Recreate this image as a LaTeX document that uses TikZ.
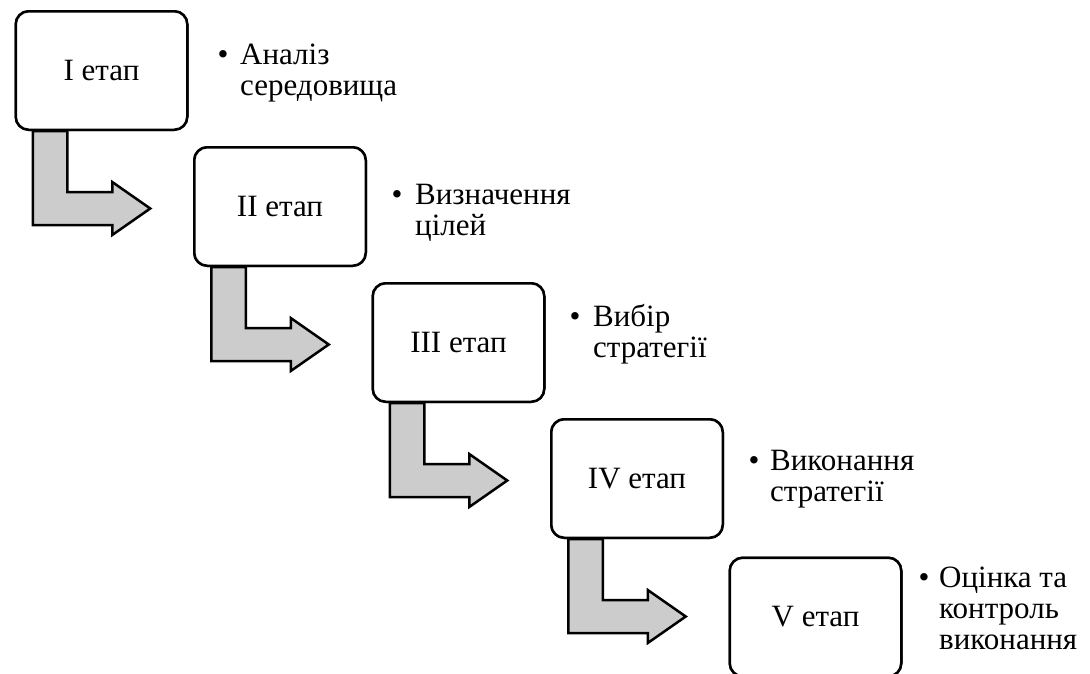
\documentclass[tikz,border=0pt]{standalone}
\usepackage{fontspec}
\setmainfont{Liberation Serif}
\usetikzlibrary{calc}
\definecolor{arrowgray}{RGB}{204,204,204}
\tikzset{
  stagebox/.style={draw=black, line width=2.5pt, fill=white, rounded corners=13pt,
    minimum width=171.5pt, minimum height=118.5pt, inner sep=0pt,
    font=\fontsize{31}{31}\selectfont},
  bentarrow/.style={draw=black, line width=2.5pt, fill=arrowgray, line join=miter},
  itemtext/.style={inner sep=0pt, align=left, anchor=base west,
    font=\fontsize{31}{31}\selectfont},
  bulletmark/.style={inner sep=0pt, anchor=base,
    font=\fontsize{31}{31}\selectfont},
}
\begin{document}
\begin{tikzpicture}[x=1pt, y=-1pt]
\useasboundingbox (0,0) rectangle (1090,673);
% boxes (placed first, drawn again on top of the arrows)
\path (101.5,70.5) node[stagebox] (b1) {I етап};
\path (280,206.5) node[stagebox] (b2) {II етап};
\path (458.5,342.5) node[stagebox] (b3) {III етап};
\path (637,478.5) node[stagebox] (b4) {IV етап};
\path (815.5,617) node[stagebox] (b5) {V етап};
% bent arrows
\foreach \b in {b1,b2,b3,b4}{
  \draw[bentarrow] ($(\b.south west)+(18.25,0)$) -- ++(0,94) -- ++(79.5,0) -- ++(0,10)
    -- ++(38,-26.5) -- ++(-38,-26.5) -- ++(0,10) -- ++(-45,0) -- ++(0,-61) -- cycle;
}
% boxes on top
\path (101.5,70.5) node[stagebox] {I етап};
\path (280,206.5) node[stagebox] {II етап};
\path (458.5,342.5) node[stagebox] {III етап};
\path (637,478.5) node[stagebox] {IV етап};
\path (815.5,617) node[stagebox] {V етап};
% bullet texts (base anchor = baseline of last line)
\node[bulletmark] (d1) at (223,64) {•};
\node[itemtext] (t1) at (240,95) {Аналіз\\середовища};
\node[bulletmark] (d2) at (397,204) {•};
\node[itemtext] (t2) at (415,235) {Визначення\\цілей};
\node[bulletmark] (d3) at (575,326) {•};
\node[itemtext] (t3) at (593,357) {Вибір\\стратегії};
\node[bulletmark] (d4) at (754,470) {•};
\node[itemtext] (t4) at (770,501) {Виконання\\стратегії};
\node[bulletmark] (d5) at (924,587) {•};
\node[itemtext] (t5) at (939,649) {Оцінка та\\контроль\\виконання};
\end{tikzpicture}
\end{document}
